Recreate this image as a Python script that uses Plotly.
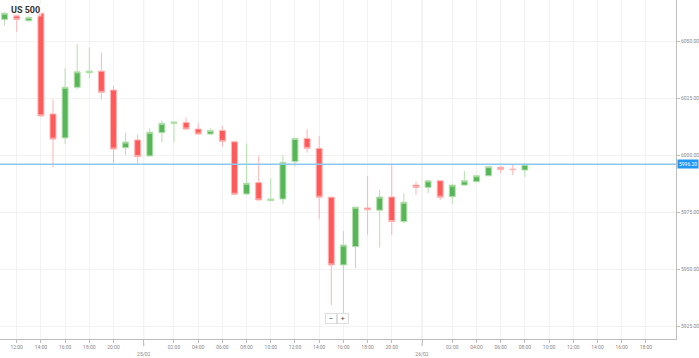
import plotly.graph_objects as go

# ---------------- data ----------------
days = ["24/02", "25/02", "26/02"]
first_hour = 11
session_hours = list(range(0, 23))   # hourly candles, 23:00 is the daily break

opens = [6059.8, 6061.9, 6059.2, 6062.5, 6018.3, 6007.8, 6030.0, 6036.4, 6037.1, 6028.8,
         6003.5, 6006.9, 5999.9, 6010.1, 6014.2, 6014.6, 6011.7, 6009.5, 6011.1, 6006.1,
         5983.2, 5988.2, 5980.3, 5981.0, 5997.4, 6007.6, 6003.2, 5981.8, 5952.1, 5960.1,
         5977.1, 5976.1, 5981.9, 5971.1, 5987.1, 5986.1, 5989.0, 5982.0, 5987.1, 5988.6,
         5991.2, 5994.9, 5994.1, 5993.7]
highs = [6063.0, 6062.3, 6062.5, 6062.8, 6024.7, 6038.3, 6048.9, 6047.5, 6045.2, 6030.6,
         6010.1, 6009.4, 6012.0, 6015.4, 6015.0, 6016.7, 6014.2, 6012.0, 6013.0, 6006.3,
         6005.4, 5999.9, 5990.1, 6000.3, 6007.8, 6011.6, 6008.6, 5982.0, 5967.0, 5977.6,
         5991.1, 5985.0, 5995.9, 5983.5, 5988.6, 5989.2, 5989.2, 5987.9, 5993.3, 5991.4,
         5995.4, 5995.5, 5996.2, 5996.4]
lows = [6057.3, 6054.4, 6058.8, 6017.0, 5995.0, 6005.1, 6029.1, 6033.9, 6024.7, 5996.9,
        6000.2, 5996.2, 5999.6, 6005.9, 6005.9, 6011.5, 6009.3, 6009.3, 6003.9, 5982.8,
        5983.0, 5980.3, 5980.0, 5978.8, 5995.2, 6001.3, 5972.1, 5934.5, 5928.0, 5950.6,
        5965.2, 5959.8, 5965.2, 5970.4, 5982.8, 5983.5, 5980.6, 5978.8, 5986.9, 5988.2,
        5991.0, 5992.3, 5991.5, 5990.8]
closes = [6062.5, 6059.8, 6060.7, 6017.5, 6007.3, 6030.0, 6036.8, 6037.1, 6027.8, 6002.9,
          6006.0, 5999.6, 6010.3, 6014.2, 6014.8, 6011.7, 6009.5, 6011.1, 6006.3, 5983.1,
          5987.9, 5980.6, 5981.0, 5997.1, 6007.6, 6003.2, 5981.8, 5952.1, 5960.8, 5977.4,
          5976.3, 5981.9, 5971.1, 5979.6, 5986.1, 5989.0, 5981.8, 5987.1, 5989.0, 5991.2,
          5995.2, 5994.0, 5993.9, 5996.2]
last_price = 5996.20
y_ticks = [5925, 5950, 5975, 6000, 6025, 6050]
instrument = "US 500"

# ---------------- slots / ticks ----------------
slots = []
for d_i, d in enumerate(days):
    for h in session_hours:
        if d_i == 0 and h < first_hour:
            continue
        slots.append((d, h))

x = list(range(len(opens)))
x_min, x_max = -0.38, 55.49
y_min, y_max = 5919.6, 6068.3

tickvals, ticktext, midnights = [], [], []
for k, (d, h) in enumerate(slots):
    if k > x_max:
        break
    if h == 0 and k > 0:
        tickvals.append(k - 0.5)
        ticktext.append("<br>" + d)
        midnights.append(k - 0.5)
    elif h % 2 == 0 and h != 22 and k <= 53:
        tickvals.append(k)
        ticktext.append(f"{h:02d}:00")

GREEN = "#57b657"
GREEN_L = "#b5e0ae"
RED = "#ff5a5a"
RED_L = "#ffb3b3"
AXIS = "#bdbdbd"
GRID = "#f2f2f2"

fig = go.Figure()
fig.add_trace(go.Candlestick(
    x=x, open=opens, high=highs, low=lows, close=closes,
    increasing=dict(line=dict(color=GREEN_L, width=1), fillcolor=GREEN),
    decreasing=dict(line=dict(color=RED_L, width=1), fillcolor=RED),
    whiskerwidth=0, showlegend=False, hoverinfo="skip",
))

shapes = []
for m in midnights:
    shapes.append(dict(type="line", xref="x", yref="paper", x0=m, x1=m, y0=0, y1=1,
                       line=dict(color="#e4e4e4", width=1), layer="below"))
    shapes.append(dict(type="line", xref="x", yref="paper", x0=m, x1=m, y0=-0.012, y1=-0.03,
                       line=dict(color="#aaaaaa", width=1, dash="dot")))
shapes.append(dict(type="line", xref="paper", yref="y", x0=0, x1=1, y0=last_price, y1=last_price,
                   line=dict(color="#8cc8ee", width=1.5), layer="above"))

annotations = [
    dict(text=f"<b>{instrument}</b>", xref="paper", yref="paper", x=9 / 676, y=1 - 3 / 339,
         xanchor="left", yanchor="top", showarrow=False,
         font=dict(family="Roboto", size=9, color="#333333"),
         bgcolor="rgba(255,255,255,0.65)", borderpad=1),
    dict(text=f"{last_price:.2f}", xref="paper", yref="y", x=1.002, y=last_price,
         xanchor="left", yanchor="middle", showarrow=False,
         font=dict(family="Roboto", size=5, color="white"),
         bgcolor="#2196f3", borderpad=1),
    dict(text="−", xref="paper", yref="paper", x=331 / 676, y=(339 - 318) / 339,
         xanchor="center", yanchor="middle", showarrow=False,
         font=dict(family="Roboto", size=8, color="#555555"),
         bgcolor="white", bordercolor="#dddddd", borderwidth=1, borderpad=0, width=10, height=9),
    dict(text="+", xref="paper", yref="paper", x=343 / 676, y=(339 - 318) / 339,
         xanchor="center", yanchor="middle", showarrow=False,
         font=dict(family="Roboto", size=8, color="#555555"),
         bgcolor="white", bordercolor="#dddddd", borderwidth=1, borderpad=0, width=10, height=9),
]

fig.update_layout(
    width=699, height=358,
    margin=dict(l=0, r=23, t=0, b=19),
    paper_bgcolor="white", plot_bgcolor="white",
    font=dict(family="Roboto", size=5, color="#888888"),
    shapes=shapes, annotations=annotations,
    xaxis=dict(range=[x_min, x_max], tickmode="array", tickvals=tickvals, ticktext=ticktext,
               showgrid=True, gridcolor=GRID, gridwidth=1, zeroline=False,
               showline=True, linecolor=AXIS, linewidth=1,
               ticks="outside", ticklen=3, tickcolor=AXIS, tickangle=0,
               tickfont=dict(family="Roboto", size=5, color="#888888"),
               rangeslider=dict(visible=False), automargin=False, fixedrange=True),
    yaxis=dict(range=[y_min, y_max], side="right", tickmode="array", tickvals=y_ticks,
               ticktext=[f"{v:.2f}" for v in y_ticks],
               showgrid=True, gridcolor=GRID, gridwidth=1, zeroline=False,
               showline=True, linecolor=AXIS, linewidth=1,
               ticks="outside", ticklen=3, tickcolor=AXIS,
               tickfont=dict(family="Roboto", size=5, color="#888888"),
               automargin=False, fixedrange=True),
    boxgap=0.3,
)

fig.write_html("out.html", config={"displayModeBar": False},
               post_script="document.body.style.margin='0';document.body.style.overflow='hidden';")
